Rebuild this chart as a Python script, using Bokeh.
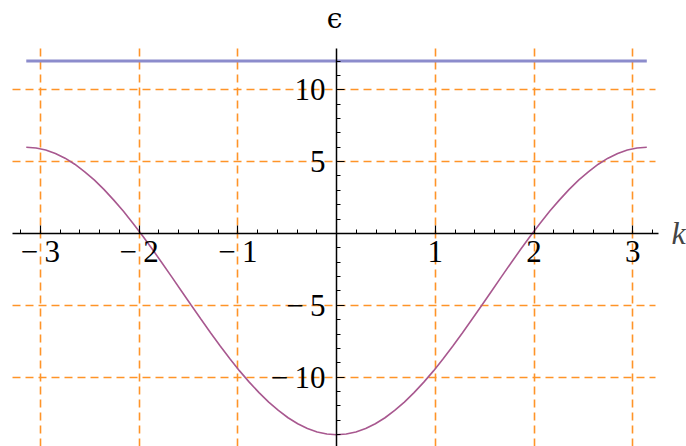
from bokeh.plotting import figure
from bokeh.models import (LinearAxis, FixedTicker, Grid, Label, CustomJSTickFormatter,
                          Range1d, ColumnDataSource)
from bokeh.embed import file_html
from bokeh.resources import INLINE

# --- data ---
k_vals = [-3.142, -3.043, -2.945, -2.847, -2.749, -2.651, -2.553, -2.454, -2.356,
          -2.258, -2.160, -2.062, -1.963, -1.865, -1.767, -1.669, -1.571,
          -1.473, -1.374, -1.276, -1.178, -1.080, -0.982, -0.884, -0.785,
          -0.687, -0.589, -0.491, -0.393, -0.295, -0.196, -0.098, 0.0,
          0.098, 0.196, 0.295, 0.393, 0.491, 0.589, 0.687, 0.785,
          0.884, 0.982, 1.080, 1.178, 1.276, 1.374, 1.473, 1.571,
          1.669, 1.767, 1.865, 1.963, 2.062, 2.160, 2.258, 2.356,
          2.454, 2.553, 2.651, 2.749, 2.847, 2.945, 3.043, 3.142]
eps_lower = [6.00, 5.95, 5.81, 5.57, 5.24, 4.82, 4.31, 3.73, 3.07,
             2.34, 1.56, 0.71, -0.17, -1.10, -2.05, -3.02, -4.00,
             -4.98, -5.95, -6.90, -7.83, -8.71, -9.56, -10.34, -11.07,
             -11.73, -12.31, -12.82, -13.24, -13.57, -13.81, -13.95, -14.00,
             -13.95, -13.81, -13.57, -13.24, -12.82, -12.31, -11.73, -11.07,
             -10.34, -9.56, -8.71, -7.83, -6.90, -5.95, -4.98, -4.00,
             -3.02, -2.05, -1.10, -0.17, 0.71, 1.56, 2.34, 3.07,
             3.73, 4.31, 4.82, 5.24, 5.57, 5.81, 5.95, 6.00]
k_flat = [-3.142, 3.142]
eps_flat = [12.0, 12.0]

x_ticks = [-3, -2, -1, 1, 2, 3]
y_ticks = [-10, -5, 5, 10]
x_minor = [round(-3.2 + 0.2 * i, 1) for i in range(33)]
y_minor = [float(v) for v in range(-14, 13)]

x_label = "k"
y_label = "\u03f5"

# plotted region (axes / grid extents)
x_lo, x_hi = -3.283, 3.262
y_lo, y_hi = -14.82, 12.87
hgrid_hi = 3.231

p = figure(width=686, height=446,
           x_range=Range1d(-3.403, 3.544), y_range=Range1d(-14.82, 16.21),
           x_axis_location=None, y_axis_location=None,
           toolbar_location=None, output_backend="svg",
           min_border_left=0, min_border_right=0, min_border_top=0, min_border_bottom=0,
           outline_line_color=None, background_fill_color="white")

# drop the default grids that figure() creates
p.center = [r for r in p.center if not isinstance(r, Grid)]

grid_color = "#ff9428"
grid_style = dict(grid_line_color=grid_color, grid_line_width=1.6, grid_line_dash="8 5")
if "cross_bounds" in Grid.properties():
    xg = Grid(dimension=0, ticker=FixedTicker(ticks=x_ticks), cross_bounds=(y_lo, y_hi), **grid_style)
    yg = Grid(dimension=1, ticker=FixedTicker(ticks=y_ticks), cross_bounds=(x_lo, hgrid_hi), **grid_style)
    p.add_layout(xg, "center")
    p.add_layout(yg, "center")
else:
    gsrc_v = ColumnDataSource(dict(x0=x_ticks, y0=[y_lo] * len(x_ticks),
                                   x1=x_ticks, y1=[y_hi] * len(x_ticks)))
    gsrc_h = ColumnDataSource(dict(x0=[x_lo] * len(y_ticks), y0=y_ticks,
                                   x1=[hgrid_hi] * len(y_ticks), y1=y_ticks))
    for s in (gsrc_v, gsrc_h):
        p.segment("x0", "y0", "x1", "y1", source=s, line_color=grid_color,
                  line_width=1.6, line_dash="8 5", level="underlay")

fmt = CustomJSTickFormatter(code="return tick < 0 ? '\\u2212\\u2009' + Math.abs(tick) : String(tick);")

common = dict(axis_line_color="black", axis_line_width=1.5,
              major_tick_line_color="black", minor_tick_line_color="black",
              major_tick_line_width=1.2, minor_tick_line_width=1,
              major_tick_in=8, major_tick_out=0, minor_tick_in=4, minor_tick_out=0,
              major_label_text_font="Liberation Serif",
              major_label_text_font_size="31px", major_label_text_color="black")

xaxis = LinearAxis(fixed_location=0, bounds=(x_lo, x_hi),
                   ticker=FixedTicker(ticks=x_ticks, minor_ticks=x_minor),
                   formatter=fmt, major_label_standoff=1, **common)
yaxis = LinearAxis(fixed_location=0, bounds=(y_lo, y_hi),
                   ticker=FixedTicker(ticks=y_ticks, minor_ticks=y_minor),
                   formatter=fmt, major_label_standoff=11, **common)
p.add_layout(xaxis, "below")
p.add_layout(yaxis, "left")

src = ColumnDataSource(dict(k=k_vals, e=eps_lower))
p.line("k", "e", source=src, line_color="#a8588f", line_width=1.6)
src2 = ColumnDataSource(dict(k=k_flat, e=eps_flat))
p.line("k", "e", source=src2, line_color="#8c8ccc", line_width=3)

p.add_layout(Label(x=3.463, y=0, text=x_label, text_font="Liberation Serif",
                   text_font_style="italic", text_font_size="32px",
                   text_align="center", text_baseline="middle"))
p.add_layout(Label(x=-0.02, y=14.95, text=y_label, text_font="DejaVu Serif",
                   text_font_size="28px", text_color="black",
                   text_align="center", text_baseline="middle"))

open("out.html", "w").write(file_html(p, INLINE))
